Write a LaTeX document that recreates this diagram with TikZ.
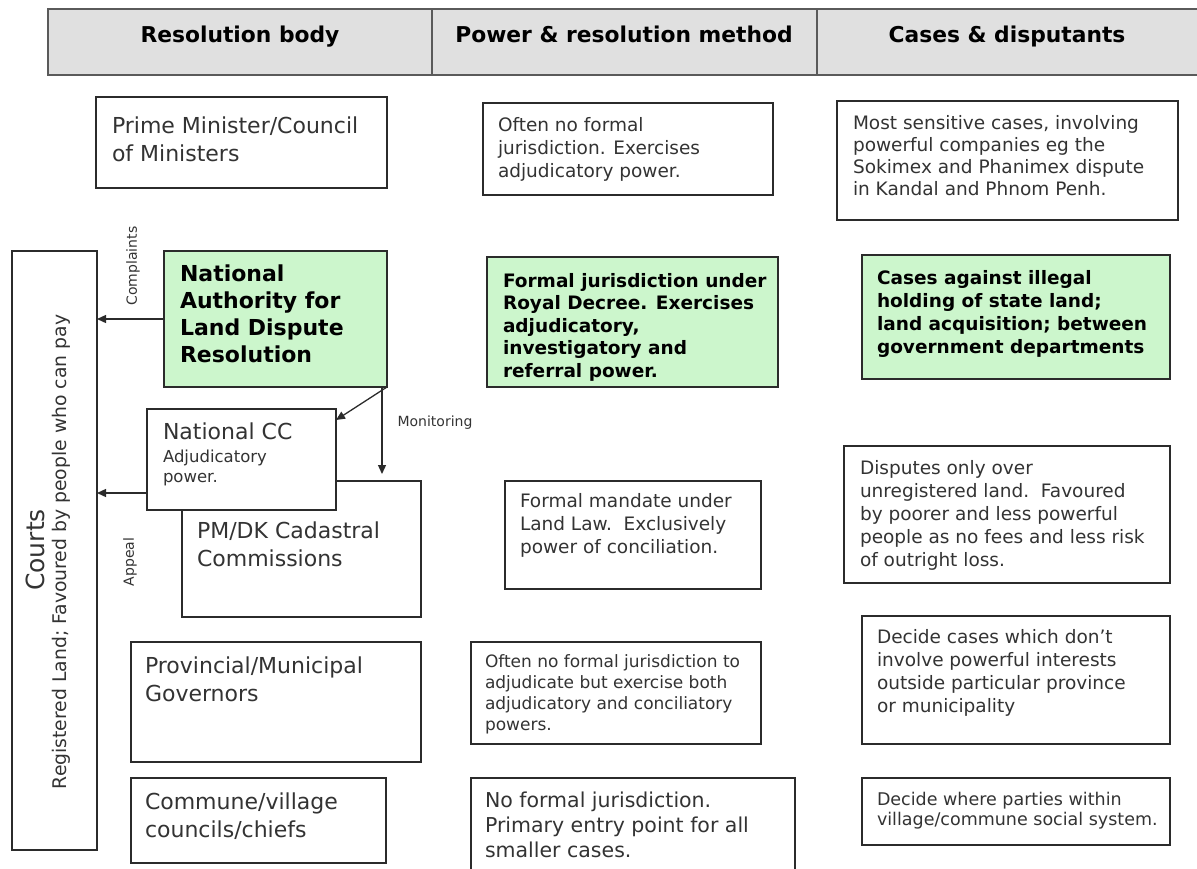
\documentclass[tikz,border=0pt]{standalone}
\usepackage{fontspec}
\setmainfont{DejaVu Sans}
\usetikzlibrary{arrows.meta,calc}
\definecolor{txtc}{HTML}{333333}
\definecolor{linec}{HTML}{2B2B2B}
\definecolor{greenf}{RGB}{204,246,204}
\definecolor{hdrf}{HTML}{E0E0E0}
\definecolor{hdrl}{HTML}{5A5A5A}
\newcommand{\bx}[6]{\node[#6, minimum width={#4-#2}, minimum height={#5-#3}] (#1) at (#2,#3) {};}
\newcommand{\fs}[2]{\fontsize{#1}{#2}\selectfont}
\begin{document}
\begin{tikzpicture}[x=1pt,y=-1pt,
  boxw/.style={draw=linec, line width=1.4pt, fill=white, anchor=north west, inner sep=0pt, outer sep=0pt},
  boxg/.style={boxw, fill=greenf},
  txt/.style={anchor=north west, inner sep=0pt, outer sep=0pt, align=left, text=txtc},
  txtb/.style={txt, text=black},
  lbl/.style={inner sep=0pt, text=txtc, font=\fs{14}{16}},
  conn/.style={draw=linec, line width=1.3pt, -{Triangle[length=9pt,width=8pt]}}]
\useasboundingbox (0,0) rectangle (1197,868);
% header
\bx{hdr}{48}{9}{1200}{75}{boxw, fill=hdrf, draw=hdrl, line width=1.6pt}
\draw[hdrl, line width=1.4pt] (432,9) -- (432,75);
\draw[hdrl, line width=1.4pt] (817,9) -- (817,75);
\node[anchor=base, inner sep=0pt, font=\bfseries\fs{21.8}{25}] (h1) at (240,42) {Resolution body};
\node[anchor=base, inner sep=0pt, font=\bfseries\fs{21.8}{25}] (h2) at (624,42) {Power \& resolution method};
\node[anchor=base, inner sep=0pt, font=\bfseries\fs{21.8}{25}] (h3) at (1007,42) {Cases \& disputants};
% courts
\bx{courts}{12}{251}{97}{850}{boxw}
\node[rotate=90, inner sep=0pt, text=txtc, font=\fs{25}{30}] (ct1) at (35,550) {Courts};
\node[rotate=90, inner sep=0pt, text=txtc, font=\fs{18.8}{22}] (ct2) at (61,552) {Registered Land; Favoured by people who can pay};
% row 1
\bx{pm}{96}{97}{387}{188}{boxw}
\node[txt, font=\fs{22}{28}] (pmt) at (112,117) {Prime Minister/Council\\of Ministers};
\bx{pmp}{483}{103}{773}{195}{boxw}
\node[txt, font=\fs{18.5}{23}] (pmpt) at (498,117) {Often no formal\\jurisdiction. Exercises\\adjudicatory power.};
\bx{pmc}{837}{101}{1178}{220}{boxw}
\node[txt, font=\fs{18.5}{22}] (pmct) at (853,115) {Most sensitive cases, involving\\powerful companies eg the\\Sokimex and Phanimex dispute\\in Kandal and Phnom Penh.};
% row 2
\bx{na}{164}{251}{387}{387}{boxg}
\node[txtb, font=\bfseries\fs{22}{27}] (nat) at (180,265) {National\\Authority for\\Land Dispute\\Resolution};
\bx{nap}{487}{257}{778}{387}{boxg}
\node[txtb, font=\bfseries\fs{18.5}{22.5}] (napt) at (503,273) {Formal jurisdiction under\\Royal Decree. Exercises\\adjudicatory,\\investigatory and\\referral power.};
\bx{nac}{862}{255}{1170}{379}{boxg}
\node[txtb, font=\bfseries\fs{18.5}{23}] (nact) at (877,270) {Cases against illegal\\holding of state land;\\land acquisition; between\\government departments};
% row 3
\bx{pmdk}{182}{481}{421}{617}{boxw}
\node[txt, font=\fs{22}{28}] (pmdkt) at (197,522) {PM/DK Cadastral\\Commissions};
\bx{ncc}{147}{409}{336}{510}{boxw}
\node[txt, font=\fs{22}{27}] (ncct1) at (163,423) {National CC};
\node[txt, font=\fs{16.5}{20}] (ncct2) at (163,450) {Adjudicatory\\power.};
\bx{cadp}{505}{481}{761}{589}{boxw}
\node[txt, font=\fs{18.5}{23}] (cadpt) at (520,493) {Formal mandate under\\Land Law.~~Exclusively\\power of conciliation.};
\bx{cadc}{844}{446}{1170}{583}{boxw}
\node[txt, font=\fs{18.5}{23}] (cadct) at (860,460) {Disputes only over\\unregistered land.~~Favoured\\by poorer and less powerful\\people as no fees and less risk\\of outright loss.};
% row 4
\bx{prov}{131}{642}{421}{762}{boxw}
\node[txt, font=\fs{22}{28}] (provt) at (145,657) {Provincial/Municipal\\Governors};
\bx{provp}{471}{642}{761}{744}{boxw}
\node[txt, font=\fs{17}{21}] (provpt) at (485,655) {Often no formal jurisdiction to\\adjudicate but exercise both\\adjudicatory and conciliatory\\powers.};
\bx{provc}{862}{616}{1170}{744}{boxw}
\node[txt, font=\fs{18.5}{23}] (provct) at (877,629) {Decide cases which don’t\\involve powerful interests\\outside particular province\\or municipality};
% row 5
\bx{comm}{131}{778}{386}{863}{boxw}
\node[txt, font=\fs{22}{28}] (commt) at (145,793) {Commune/village\\councils/chiefs};
\bx{commp}{471}{778}{795}{880}{boxw}
\node[txt, font=\fs{20.5}{25}] (commpt) at (485,792) {No formal jurisdiction.\\Primary entry point for all\\smaller cases.};
\bx{commc}{862}{778}{1170}{845}{boxw}
\node[txt, font=\fs{17.5}{20}] (commct) at (877,792) {Decide where parties within\\village/commune social system.};
% connectors
\draw[conn] (na.west) -- (na.west -| courts.east);
\coordinate (appS) at ($(ncc.south west)+(0,-17)$);
\draw[conn] (appS) -- (appS -| courts.east);
\coordinate (nccR) at ($(ncc.north east)+(0,11)$);
\draw[conn] (na.south east) -- (nccR);
\coordinate (monS) at ($(na.south east)+(-5,0)$);
\draw[conn, shorten >=7pt] (monS) -- (monS |- pmdk.north);
% labels
\node[lbl, rotate=90] (lc) at (133,266) {Complaints};
\node[lbl, rotate=90] (la) at (130,562) {Appeal};
\node[lbl] (lm) at (435,423) {Monitoring};
\end{tikzpicture}
\end{document}
